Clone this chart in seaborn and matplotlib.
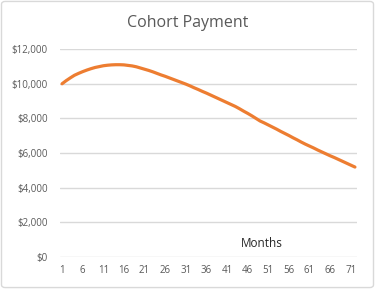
import numpy as np
import pandas as pd
import matplotlib
matplotlib.use("Agg")
import matplotlib.pyplot as plt
import seaborn as sns
from matplotlib.ticker import FuncFormatter
from matplotlib.patches import FancyBboxPatch

# Donnees
months = list(range(1, 73))
payment = [
    10000, 10180, 10340, 10490, 10600, 10700, 10790, 10870, 10940, 10990,
    11040, 11070, 11090, 11100, 11100, 11090, 11060, 11030, 10980, 10910,
    10840, 10770, 10690, 10600, 10510, 10430, 10340, 10250, 10160, 10070,
    9980, 9880, 9770, 9670, 9560, 9460, 9350, 9240, 9130, 9020,
    8910, 8800, 8690, 8560, 8420, 8290, 8150, 8000, 7850, 7740,
    7620, 7500, 7380, 7250, 7130, 7010, 6880, 6760, 6630, 6510,
    6400, 6290, 6170, 6060, 5950, 5840, 5740, 5630, 5520, 5410,
    5300, 5190,
]
tick_months = list(range(1, 72, 5))
y_ticks = list(range(0, 12001, 2000))

data = pd.DataFrame({"Month": months, "Payment": payment})

sns.set_style("white")
plt.rcParams["font.family"] = ["Open Sans", "DejaVu Sans"]

fig = plt.figure(figsize=(3.75, 2.89), dpi=100)
ax = fig.add_axes([0.16, 0.111, 0.792, 0.719])

sns.lineplot(x="Month", y="Payment", data=data, color="#ED7D31", linewidth=2.3, ax=ax)

ax.set_xlim(0.5, 72.5)
ax.set_ylim(0, 12000)
ax.set_xticks(tick_months)
ax.set_yticks(y_ticks)
ax.yaxis.set_major_formatter(FuncFormatter(lambda v, p: f"${v:,.0f}"))
ax.grid(axis="y", color="#D9D9D9", linewidth=1)
ax.set_axisbelow(True)
for s in ax.spines.values():
    s.set_visible(False)
ax.tick_params(axis="both", length=0, labelsize=7, labelcolor="#595959")
ax.tick_params(axis="y", pad=9)
ax.tick_params(axis="x", pad=6)
ax.set_xlabel("")
ax.set_ylabel("")

ax.text(49.5, 750, "Months", fontsize=8.5, color="#262626", ha="center", va="center")
fig.text(0.5, 0.92, "Cohort Payment", fontsize=11.5, color="#595959", ha="center", va="center")

# cadre du graphique
border = FancyBboxPatch((0.004, 0.005), 0.992, 0.99, boxstyle="round,pad=0,rounding_size=0.01",
                        transform=fig.transFigure, fill=False, edgecolor="#D9D9D9", linewidth=1)
fig.patches.append(border)

fig.savefig("out.png", dpi=100)
